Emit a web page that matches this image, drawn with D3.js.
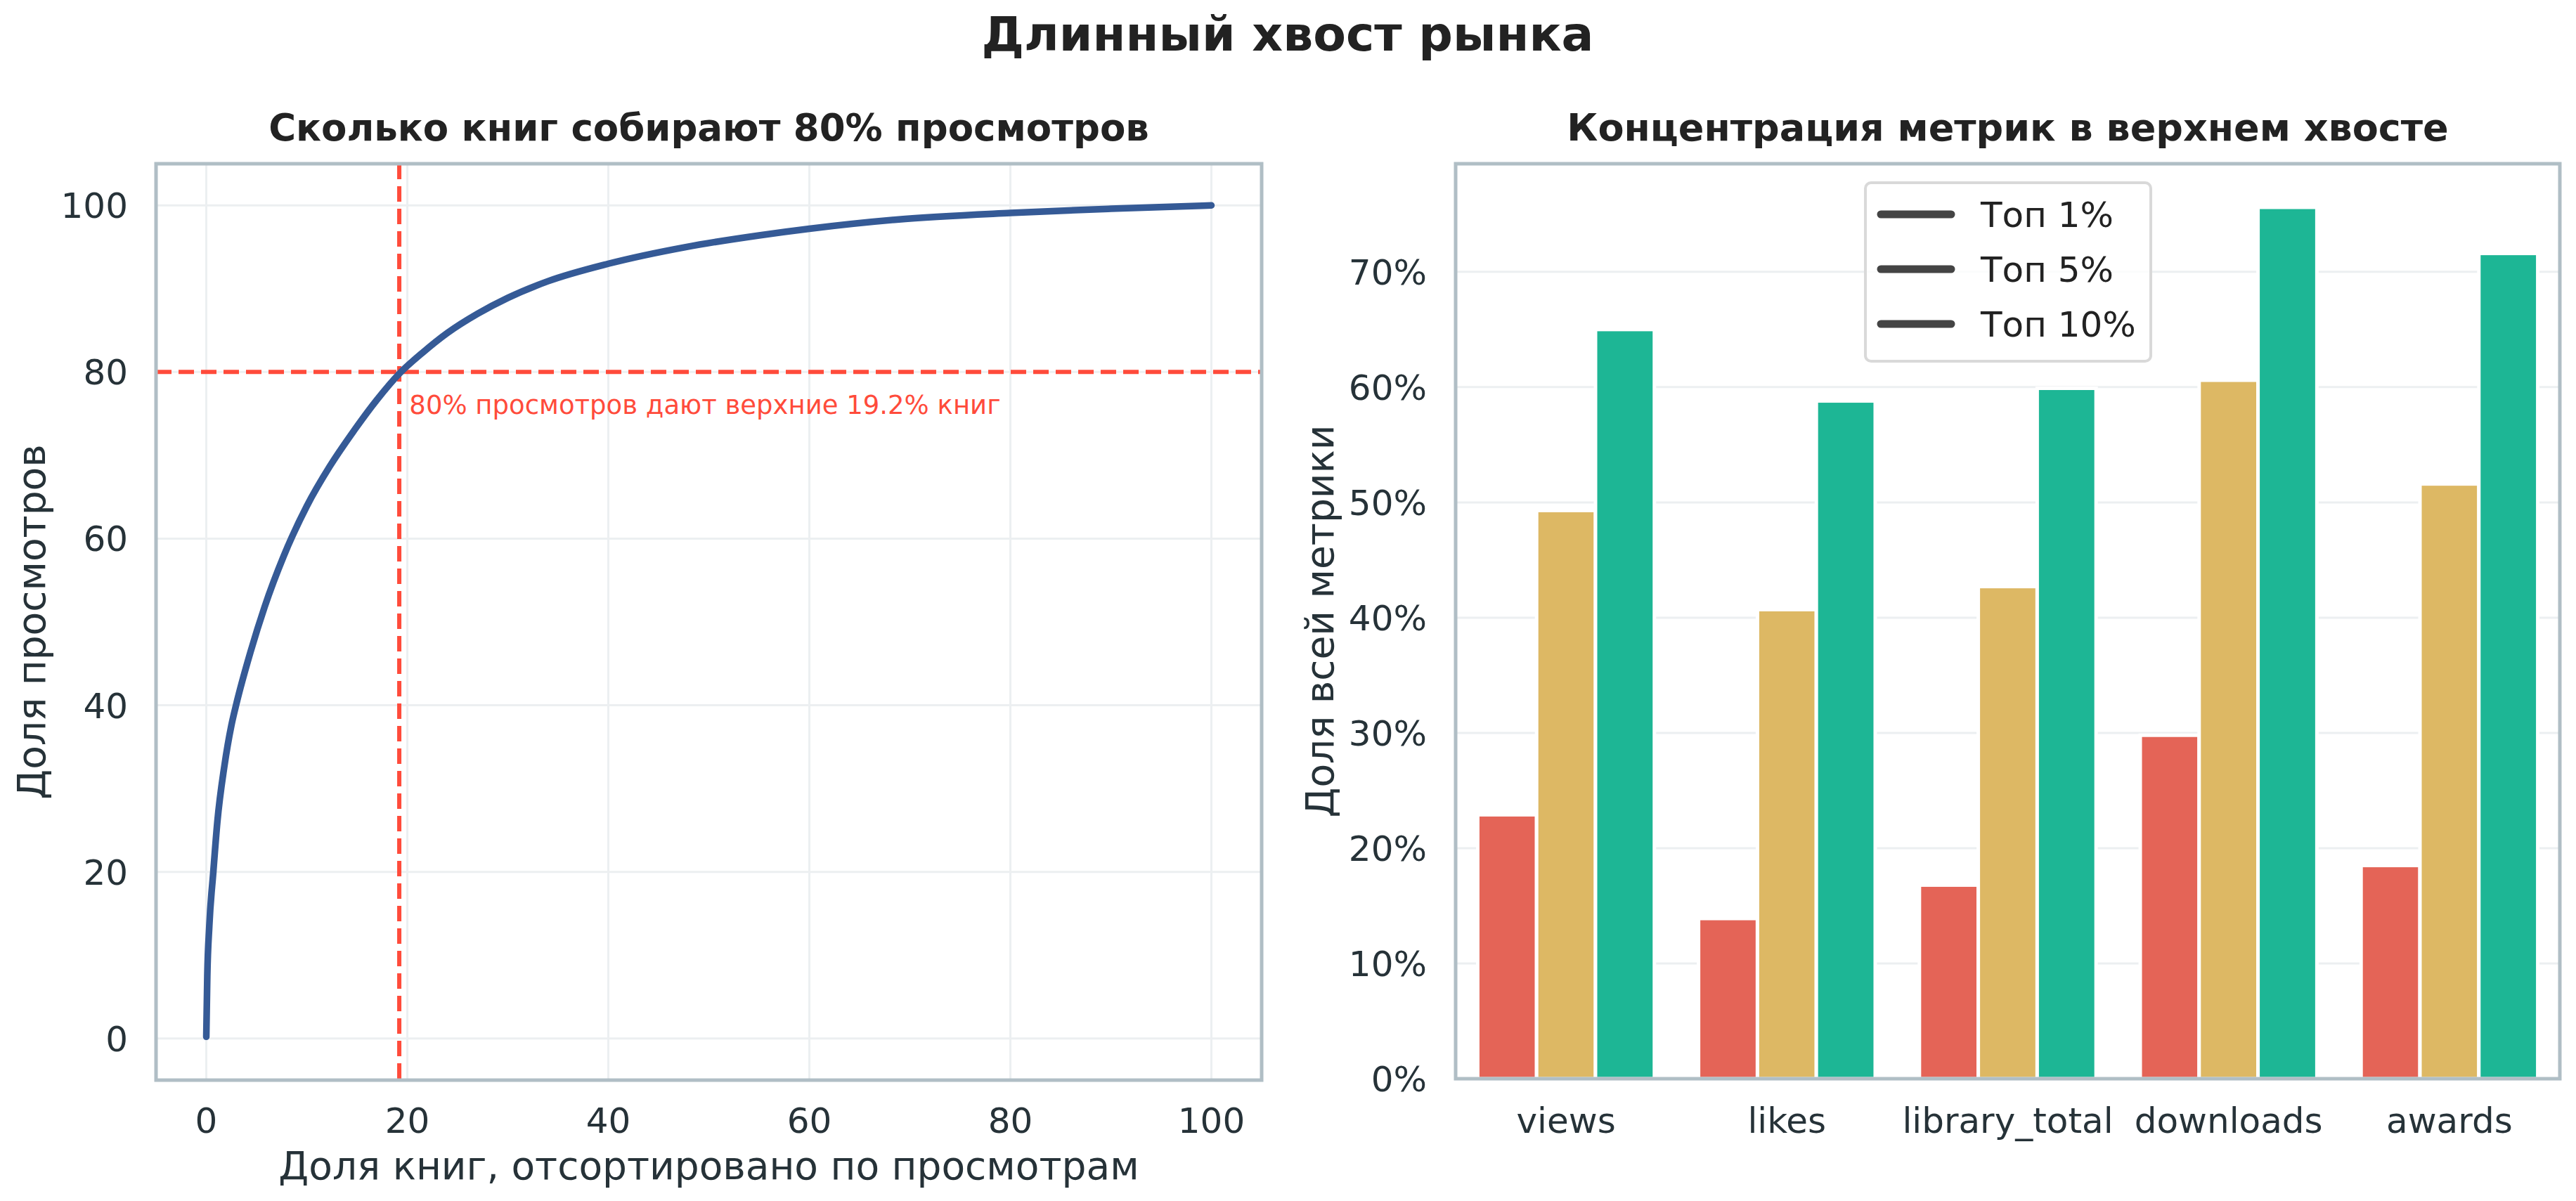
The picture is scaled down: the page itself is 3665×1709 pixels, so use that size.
<!DOCTYPE html>
<html>
<head>
<meta charset="utf-8">
<script src="https://cdn.jsdelivr.net/npm/d3@7"></script>
<style>
  body { margin: 0; background: #fff; }
  text { font-family: "DejaVu Sans", sans-serif; }
</style>
</head>
<body>
<div class="canvas"></div>
<script>
// --- data ---
// left: cumulative share of views vs share of books (sorted)
const shareBooks = [0, 0.1, 0.3, 0.7, 1.1, 1.8, 2.5, 3.0, 4.4, 5.8, 7.7, 10, 12.3, 14.6, 17, 19.2, 21.5, 24, 27, 30, 34, 40, 47.7, 55, 60, 68.7, 80, 90, 100];
const shareViews = [0.2, 7.5, 13.5, 20, 26, 32.7, 37.6, 40.2, 46.4, 51.8, 57.9, 63.9, 68.7, 72.8, 76.7, 79.8, 82.3, 84.7, 87.0, 88.9, 90.9, 93.0, 95.0, 96.4, 97.2, 98.3, 99.1, 99.6, 100];
const cutoffX = 19.2;
const cutoffY = 80;
const leftTicks = [0, 20, 40, 60, 80, 100];

// right: share of each metric held by top books
const metrics = ['views', 'likes', 'library_total', 'downloads', 'awards'];
const tiers = ['Топ 1%', 'Топ 5%', 'Топ 10%'];
const top1 = [0.229, 0.139, 0.168, 0.298, 0.185];
const top5 = [0.493, 0.407, 0.427, 0.606, 0.516];
const top10 = [0.650, 0.588, 0.599, 0.756, 0.716];
const pctTicks = [0, 0.1, 0.2, 0.3, 0.4, 0.5, 0.6, 0.7];

const tierColors = ['#e46457', '#ddb864', '#1db695'];
const textColor = '#263238';
const frameColor = '#b0bec5';
const gridColor = '#eceff1';
const refColor = '#ff4b3b';

// select svg container
const svg = d3.select('.canvas')
    .append('svg')
    .attr('width', 3665)
    .attr('height', 1709);

svg.append('rect').attr('width', 3665).attr('height', 1709).attr('fill', '#fff');

// suptitle
svg.append('text')
    .attr('x', 1832).attr('y', 72)
    .attr('text-anchor', 'middle')
    .attr('font-size', 68).attr('font-weight', 'bold')
    .attr('fill', '#222')
    .text('Длинный хвост рынка');

// ============ left panel ============
const L = { x0: 222, x1: 1795, y0: 233, y1: 1537 };

const xL = d3.scaleLinear().domain([-5, 105]).range([L.x0, L.x1]);
const yL = d3.scaleLinear().domain([-5, 105]).range([L.y1, L.y0]);

const left = svg.append('g');

// grid
left.selectAll('.vgrid').data(leftTicks).enter().append('line')
    .attr('x1', d => xL(d)).attr('x2', d => xL(d))
    .attr('y1', L.y0).attr('y2', L.y1)
    .attr('stroke', gridColor).attr('stroke-width', 3);
left.selectAll('.hgrid').data(leftTicks).enter().append('line')
    .attr('y1', d => yL(d)).attr('y2', d => yL(d))
    .attr('x1', L.x0).attr('x2', L.x1)
    .attr('stroke', gridColor).attr('stroke-width', 3);

// reference lines
left.append('line')
    .attr('x1', L.x0).attr('x2', L.x1)
    .attr('y1', yL(cutoffY)).attr('y2', yL(cutoffY))
    .attr('stroke', refColor).attr('stroke-width', 6)
    .attr('stroke-dasharray', '22 10');
left.append('line')
    .attr('x1', xL(cutoffX)).attr('x2', xL(cutoffX))
    .attr('y1', L.y0).attr('y2', L.y1)
    .attr('stroke', refColor).attr('stroke-width', 6)
    .attr('stroke-dasharray', '22 10');

// curve
const curve = d3.line()
    .x(d => xL(d[0]))
    .y(d => yL(d[1]))
    .curve(d3.curveMonotoneX);

left.append('path')
    .datum(d3.zip(shareBooks, shareViews))
    .attr('d', curve)
    .attr('fill', 'none')
    .attr('stroke', '#355a96')
    .attr('stroke-width', 9.5)
    .attr('stroke-linecap', 'round')
    .attr('stroke-linejoin', 'round');

left.append('text')
    .attr('x', xL(cutoffX + 1)).attr('y', yL(cutoffY - 5))
    .attr('font-size', 37)
    .attr('fill', refColor)
    .text(`80% просмотров дают верхние ${cutoffX}% книг`);

// frame
left.append('rect')
    .attr('x', L.x0).attr('y', L.y0)
    .attr('width', L.x1 - L.x0).attr('height', L.y1 - L.y0)
    .attr('fill', 'none').attr('stroke', frameColor).attr('stroke-width', 5);

// ticks
left.selectAll('.xt').data(leftTicks).enter().append('text')
    .attr('x', d => xL(d)).attr('y', 1612)
    .attr('text-anchor', 'middle')
    .attr('font-size', 50).attr('fill', textColor)
    .text(d => d);
left.selectAll('.yt').data(leftTicks).enter().append('text')
    .attr('x', 182).attr('y', d => yL(d)).attr('dy', '0.36em')
    .attr('text-anchor', 'end')
    .attr('font-size', 50).attr('fill', textColor)
    .text(d => d);

left.append('text')
    .attr('x', (L.x0 + L.x1) / 2).attr('y', 1678)
    .attr('text-anchor', 'middle')
    .attr('font-size', 55).attr('fill', textColor)
    .text('Доля книг, отсортировано по просмотрам');
left.append('text')
    .attr('transform', `translate(64, ${(L.y0 + L.y1) / 2}) rotate(-90)`)
    .attr('text-anchor', 'middle')
    .attr('font-size', 55).attr('fill', textColor)
    .text('Доля просмотров');
left.append('text')
    .attr('x', (L.x0 + L.x1) / 2).attr('y', 200)
    .attr('text-anchor', 'middle')
    .attr('font-size', 53).attr('font-weight', 'bold')
    .attr('fill', '#222')
    .text('Сколько книг собирают 80% просмотров');

// ============ right panel ============
const R = { x0: 2071, x1: 3642, y0: 233, y1: 1535 };

const xR = d3.scaleBand()
    .domain(metrics)
    .range([R.x0, R.x1])
    .paddingInner(0.2)
    .paddingOuter(0.1);
const xTier = d3.scaleBand()
    .domain(tiers)
    .range([0, xR.bandwidth()]);
const yR = d3.scaleLinear()
    .domain([0, d3.max(top10) * 1.05])
    .range([R.y1, R.y0]);

const right = svg.append('g');

right.selectAll('.hgrid').data(pctTicks).enter().append('line')
    .attr('y1', d => yR(d)).attr('y2', d => yR(d))
    .attr('x1', R.x0).attr('x2', R.x1)
    .attr('stroke', gridColor).attr('stroke-width', 3);

const tierValues = [top1, top5, top10];
const barData = [];
metrics.forEach((m, i) => {
    tiers.forEach((t, j) => barData.push({ metric: m, tier: t, value: tierValues[j][i], k: j }));
});

right.selectAll('rect.bar')
    .data(barData)
    .enter()
    .append('rect')
    .attr('class', 'bar')
    .attr('x', d => xR(d.metric) + xTier(d.tier))
    .attr('y', d => yR(d.value))
    .attr('width', xTier.bandwidth())
    .attr('height', d => yR(0) - yR(d.value))
    .attr('fill', d => tierColors[d.k])
    .attr('stroke', '#fff')
    .attr('stroke-width', 5);

right.append('rect')
    .attr('x', R.x0).attr('y', R.y0)
    .attr('width', R.x1 - R.x0).attr('height', R.y1 - R.y0)
    .attr('fill', 'none').attr('stroke', frameColor).attr('stroke-width', 5);

right.selectAll('.xt').data(metrics).enter().append('text')
    .attr('x', d => xR(d) + xR.bandwidth() / 2).attr('y', 1612)
    .attr('text-anchor', 'middle')
    .attr('font-size', 50).attr('fill', textColor)
    .text(d => d);
right.selectAll('.yt').data(pctTicks).enter().append('text')
    .attr('x', 2030).attr('y', d => yR(d)).attr('dy', '0.36em')
    .attr('text-anchor', 'end')
    .attr('font-size', 50).attr('fill', textColor)
    .text(d => d3.format('.0%')(d));

right.append('text')
    .attr('transform', `translate(1897, ${(R.y0 + R.y1) / 2}) rotate(-90)`)
    .attr('text-anchor', 'middle')
    .attr('font-size', 55).attr('fill', textColor)
    .text('Доля всей метрики');
right.append('text')
    .attr('x', (R.x0 + R.x1) / 2).attr('y', 200)
    .attr('text-anchor', 'middle')
    .attr('font-size', 54).attr('font-weight', 'bold')
    .attr('fill', '#222')
    .text('Концентрация метрик в верхнем хвосте');

// legend (line handles, as in the picture)
const legend = right.append('g').attr('transform', 'translate(2654, 260)');
legend.append('rect')
    .attr('width', 406).attr('height', 254)
    .attr('rx', 8)
    .attr('fill', '#fff').attr('fill-opacity', 0.8)
    .attr('stroke', '#d9d9d9').attr('stroke-width', 4);
const items = legend.selectAll('g.item')
    .data(tiers)
    .enter()
    .append('g')
    .attr('transform', (d, i) => `translate(0, ${45 + i * 78})`);
items.append('line')
    .attr('x1', 22).attr('x2', 122)
    .attr('stroke', '#444').attr('stroke-width', 11)
    .attr('stroke-linecap', 'round');
items.append('text')
    .attr('x', 164).attr('dy', '0.36em')
    .attr('font-size', 50).attr('fill', '#222')
    .text(d => d);
</script>
</body>
</html>
